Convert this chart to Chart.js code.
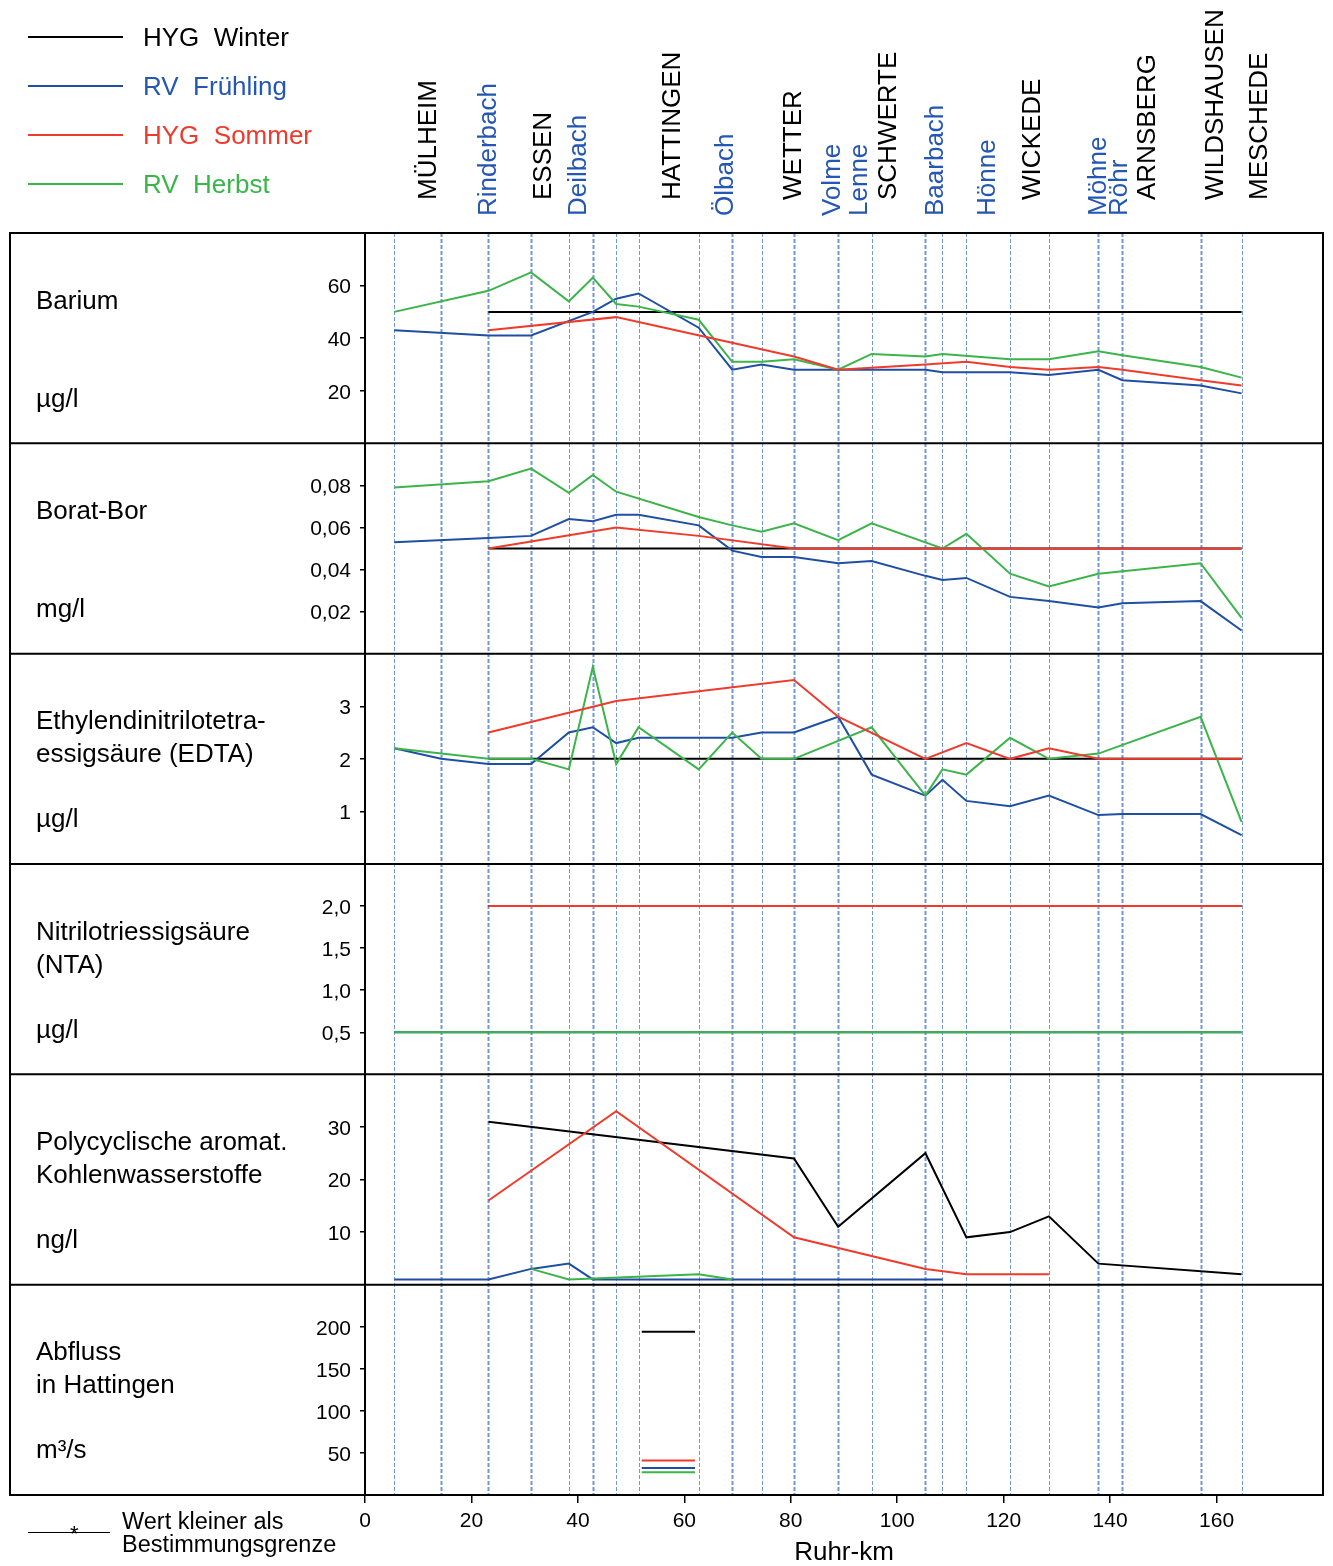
<!DOCTYPE html>
<html lang="de">
<head>
<meta charset="utf-8">
<title>Ruhr – Längsprofil</title>
<script src="https://cdn.jsdelivr.net/npm/chart.js@4.4.1/dist/chart.umd.min.js"></script>
<style>
  body { margin: 0; background: #fff; }
  #wrap { position: relative; width: 1333px; height: 1566px; font-family: "Liberation Sans", Arial, sans-serif; color: #000; overflow: hidden; }
  #wrap canvas { position: absolute; left: 0; top: 0; }
  .txt { position: absolute; white-space: pre; font-size: 26px; line-height: 33px; }
  .stat { position: absolute; white-space: nowrap; font-size: 26px; line-height: 28px; transform-origin: 0 0; transform: rotate(-90deg); }
  .leg { position: absolute; left: 28px; width: 95px; height: 0; border-top: 2px solid #000; }
  .fuss { position: absolute; white-space: pre; font-size: 23.5px; line-height: 23px; }
</style>
</head>
<body>
<div id="wrap">
  <canvas id="profil" width="1333" height="1566"></canvas>
</div>
<script>
const N = null;

// Messstellen (Ruhr-km), an denen die Kurven Stützpunkte haben
const stationKm = [5.5, 14.3, 23.2, 31.2, 38.3, 42.8, 47.2, 51.4, 62.7, 69.0, 74.5, 80.6,
                   88.9, 95.2, 105.3, 108.5, 113.0, 121.2, 128.5, 137.8, 142.3, 157.0, 164.7];

const jahreszeiten = ['HYG  Winter', 'RV  Frühling', 'HYG  Sommer', 'RV  Herbst'];

// Barium µg/l
const bariumWinter    = [N,N,50,N,N,N,N,N,N,N,N,N,N,N,N,N,N,N,N,N,N,N,50];
const bariumFruehling = [43,N,41,41,N,50,55,57,44,28,30,28,28,28,28,27,N,27,26,28,24,22,19];
const bariumSommer    = [N,N,43,N,N,N,48,N,N,N,N,33,28,N,30,N,31,29,28,29,28,24,22];
const bariumHerbst    = [50,N,58,65,54,63,53,52,47,31,31,32,28,34,33,34,N,32,32,35,33.5,29,25];

// Borat-Bor mg/l
const boratWinter    = [N,N,0.05,N,N,N,N,N,N,N,N,N,N,N,N,N,N,N,N,N,N,N,0.05];
const boratFruehling = [0.053,N,0.055,0.056,0.064,0.063,0.066,0.066,0.061,0.049,0.046,0.046,
                        0.043,0.044,0.037,0.035,0.036,0.027,0.025,0.022,0.024,0.025,0.011];
const boratSommer    = [N,N,0.05,N,N,N,0.06,N,0.056,N,N,0.05,N,N,N,N,N,N,N,N,N,N,0.05];
const boratHerbst    = [0.079,N,0.082,0.088,0.0765,0.085,0.077,N,0.065,0.061,0.058,0.062,
                        0.054,0.062,N,0.05,0.057,0.038,0.032,0.038,N,0.043,0.017];

// EDTA µg/l
const edtaWinter    = [N,N,2,N,N,N,N,N,N,N,N,N,N,N,N,N,N,N,N,N,N,N,2];
const edtaFruehling = [2.2,2.0,1.9,1.9,2.5,2.6,2.3,2.4,2.4,2.4,2.5,2.5,2.8,1.7,1.3,1.6,1.2,1.1,1.3,0.93,0.95,0.95,0.55];
const edtaSommer    = [N,N,2.5,N,N,N,3.1,N,N,N,N,3.5,2.8,N,2.0,N,2.3,2.0,2.2,2.0,N,N,2.0];
const edtaHerbst    = [2.2,N,2.0,2.0,1.8,3.75,1.9,2.6,1.8,2.5,2.0,2.0,N,2.6,1.3,1.8,1.7,2.4,2.0,2.1,N,2.8,0.8];

// NTA µg/l
const ntaWinter    = [N,N,2,N,N,N,N,N,N,N,N,N,N,N,N,N,N,N,N,N,N,N,2];
const ntaFruehling = [0.5,N,N,N,N,N,N,N,N,N,N,N,N,N,N,N,N,N,N,N,N,N,0.5];
const ntaSommer    = [N,N,2,N,N,N,N,N,N,N,N,N,N,N,N,N,N,N,N,N,N,N,2];
const ntaHerbst    = [0.5,N,N,N,N,N,N,N,N,N,N,N,N,N,N,N,N,N,N,N,N,N,0.5];

// PAK ng/l
const pakWinter    = [N,N,31,N,N,N,N,N,N,N,N,24,11,N,25,N,9,10,13,4,N,N,2];
const pakFruehling = [1,N,1,3,4,1,N,N,N,N,N,N,N,N,N,1,N,N,N,N,N,N,N];
const pakSommer    = [N,N,16,N,N,N,33,N,N,N,N,9,N,N,3,N,2,N,2,N,N,N,N];
const pakHerbst    = [N,N,N,3,1,N,N,N,2,1,N,N,N,N,N,N,N,N,N,N,N,N,N];

// Abfluss in Hattingen m³/s (Winter, Frühling, Sommer, Herbst)
const abflussKm = [52, 62];
const abflussWerte = [194, 32, 41, 27];

const xTicks = [0, 20, 40, 60, 80, 100, 120, 140, 160];

const farben = ['#000000', '#1f4fa3', '#ef3b2c', '#3cb44a'];
const textFarben = ['#000000', '#2456b3', '#ee3a2c', '#39b54a'];

const panels = [
  { id: 'yBa',  max: 80,  ticks: [20, 40, 60], dec: 0,
    werte: [bariumWinter, bariumFruehling, bariumSommer, bariumHerbst],
    titel: 'Barium', einheit: 'µg/l' },
  { id: 'yBor', max: 0.1, ticks: [0.02, 0.04, 0.06, 0.08], dec: 2,
    werte: [boratWinter, boratFruehling, boratSommer, boratHerbst],
    titel: 'Borat-Bor', einheit: 'mg/l' },
  { id: 'yEdta', max: 4, ticks: [1, 2, 3], dec: 0,
    werte: [edtaWinter, edtaFruehling, edtaSommer, edtaHerbst],
    titel: 'Ethylendinitrilotetra-\nessigsäure (EDTA)', einheit: 'µg/l' },
  { id: 'yNta', max: 2.5, ticks: [0.5, 1, 1.5, 2], dec: 1,
    werte: [ntaWinter, ntaFruehling, ntaSommer, ntaHerbst],
    titel: 'Nitrilotriessigsäure\n(NTA)', einheit: 'µg/l' },
  { id: 'yPak', max: 40, ticks: [10, 20, 30], dec: 0,
    werte: [pakWinter, pakFruehling, pakSommer, pakHerbst],
    titel: 'Polycyclische aromat.\nKohlenwasserstoffe', einheit: 'ng/l' },
  { id: 'yQ', max: 250, ticks: [50, 100, 150, 200], dec: 0,
    werte: null,
    titel: 'Abfluss\nin Hattingen', einheit: 'm³/s' }
];

// Beschriftung der Messstellen oben: [Name, Mitte px, Nebenfluss?]
const stationLabels = [
  ['MÜLHEIM', 427, 0], ['Rinderbach', 487, 1], ['ESSEN', 542, 0], ['Deilbach', 577, 1],
  ['HATTINGEN', 671, 0], ['Ölbach', 724, 1], ['WETTER', 792, 0], ['Volme', 831, 1],
  ['Lenne', 858, 1], ['SCHWERTE', 887, 0], ['Baarbach', 934, 1], ['Hönne', 986, 1],
  ['WICKEDE', 1031, 0], ['Möhne', 1097, 1], ['Röhr', 1118, 1], ['ARNSBERG', 1146, 0],
  ['WILDSHAUSEN', 1214, 0], ['MESCHEDE', 1258, 0]
];

const dickeLinien = new Set([14.3, 23.2, 31.2, 42.8, 69.0, 80.6, 88.9, 105.3, 137.8, 142.3, 157.0]);

Chart.defaults.font.family = "'Liberation Sans', Arial, sans-serif";
Chart.defaults.color = '#000';

// Datensätze: Sommer oben, dann Herbst, Frühling, Winter unten
const zeichenFolge = [2, 3, 1, 0];
const datasets = [];
panels.forEach(p => {
  zeichenFolge.forEach(s => {
    let data;
    if (p.werte) {
      data = stationKm.map((x, i) => ({ x: x, y: p.werte[s][i] })).filter(d => d.y !== null);
    } else {
      data = abflussKm.map(x => ({ x: x, y: abflussWerte[s] }));
    }
    datasets.push({
      label: jahreszeiten[s],
      data: data,
      yAxisID: p.id,
      borderColor: farben[s],
      backgroundColor: farben[s],
      borderWidth: 2,
      pointRadius: 0,
      tension: 0,
      fill: false
    });
  });
});

const scales = {
  x: {
    type: 'linear', position: 'bottom', min: 0, max: 180,
    afterBuildTicks: s => { s.ticks = xTicks.map(v => ({ value: v })); },
    afterFit: s => { s.height = 71; },
    grid: { drawOnChartArea: false, drawTicks: true, tickLength: 8, color: '#000', lineWidth: 1.5 },
    border: { display: true, color: '#000', width: 2 },
    ticks: { font: { size: 21 }, padding: 6, maxRotation: 0, autoSkip: false },
    title: { display: true, text: 'Ruhr-km', font: { size: 26, lineHeight: 1.0 }, padding: { top: 0, bottom: 0 } }
  }
};
panels.forEach((p, i) => {
  scales[p.id] = {
    type: 'linear', position: 'left', stack: 'profil', stackWeight: 1, weight: panels.length - i,
    min: 0, max: p.max,
    afterBuildTicks: s => { s.ticks = p.ticks.map(v => ({ value: v })); },
    afterFit: s => { s.width = 355; },
    grid: { drawOnChartArea: false, drawTicks: true, tickLength: 5, color: '#000', lineWidth: 1.5 },
    border: { display: true, color: '#000', width: 2 },
    ticks: {
      font: { size: 21 }, padding: 9, autoSkip: false, labelOffset: 2,
      callback: v => v.toFixed(p.dec).replace('.', ',')
    }
  };
});

const rahmen = {
  id: 'rahmen',
  beforeDatasetsDraw(chart) {
    const { ctx, chartArea: a, scales: { x } } = chart;
    ctx.save();
    ctx.strokeStyle = '#7196da';
    ctx.setLineDash([4, 2]);
    stationKm.forEach(km => {
      const px = Math.round(x.getPixelForValue(km)) + 0.5;
      ctx.lineWidth = dickeLinien.has(km) ? 2 : 1;
      ctx.beginPath();
      ctx.moveTo(px, a.top);
      ctx.lineTo(px, a.bottom);
      ctx.stroke();
    });
    ctx.restore();
  },
  afterDraw(chart) {
    const { ctx, chartArea: a } = chart;
    const links = 10;
    ctx.save();
    ctx.strokeStyle = '#000';
    ctx.lineWidth = 2;
    ctx.strokeRect(links, a.top, a.right - links, a.bottom - a.top);
    panels.forEach(p => {
      const y = chart.scales[p.id].bottom;
      ctx.beginPath();
      ctx.moveTo(links, y);
      ctx.lineTo(a.right, y);
      ctx.stroke();
    });
    ctx.restore();
  }
};

const ctx = document.getElementById('profil').getContext('2d');
const profil = new Chart(ctx, {
  type: 'line',
  data: { datasets: datasets },
  options: {
    responsive: false,
    devicePixelRatio: 1,
    animation: false,
    layout: { padding: { left: 10, right: 10, top: 233, bottom: 0 } },
    plugins: { legend: { display: false }, tooltip: { enabled: false } },
    scales: scales
  },
  plugins: [rahmen]
});

// Texte als HTML
const wrap = document.getElementById('wrap');
function addDiv(cls, text, css) {
  const d = document.createElement('div');
  d.className = cls;
  d.textContent = text;
  Object.assign(d.style, css);
  wrap.appendChild(d);
  return d;
}

// Legende
jahreszeiten.forEach((name, i) => {
  const y = 37 + i * 49;
  addDiv('leg', '', { top: (y - 1) + 'px', borderTopColor: farben[i] });
  addDiv('txt', name, { left: '143px', top: (y - 16.5) + 'px', color: textFarben[i] });
});

// Messstellen oben
stationLabels.forEach(([name, cx, blau]) => {
  addDiv('stat', name, { left: (cx - 14) + 'px', top: (blau ? 216 : 200) + 'px', color: blau ? textFarben[1] : '#000' });
});

// Parameterbezeichnungen links
panels.forEach(p => {
  const top = profil.scales[p.id].top;
  addDiv('txt', p.titel, { left: '36px', top: (top + 50.5) + 'px' });
  addDiv('txt', p.einheit, { left: '36px', top: (top + 148.5) + 'px' });
});

// Fußnote
addDiv('leg', '', { left: '28px', width: '82px', top: '1532px', borderTopWidth: '1.5px' });
addDiv('fuss', '*', { left: '70px', top: '1522px', fontSize: '22px' });
addDiv('fuss', 'Wert kleiner als\nBestimmungsgrenze', { left: '122px', top: '1510px' });
</script>
</body>
</html>
